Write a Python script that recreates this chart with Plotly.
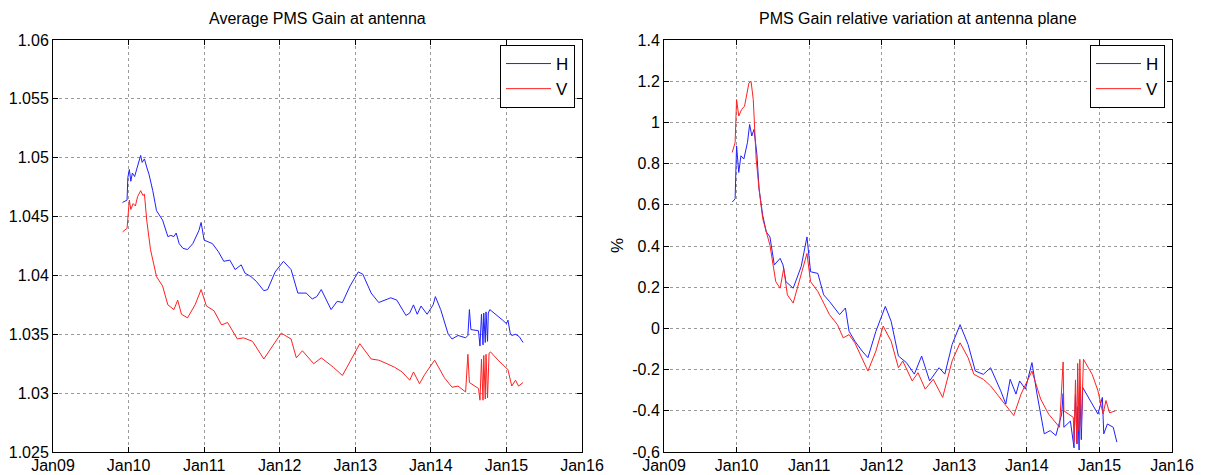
import plotly.graph_objects as go

# ---------------- data (decimal years, values) ----------------
year_ticks = [2009, 2010, 2011, 2012, 2013, 2014, 2015, 2016]
year_labels = ["Jan09", "Jan10", "Jan11", "Jan12", "Jan13", "Jan14", "Jan15", "Jan16"]

left_ytick_vals = [1.025, 1.03, 1.035, 1.04, 1.045, 1.05, 1.055, 1.06]
left_ytick_text = ["1.025", "1.03", "1.035", "1.04", "1.045", "1.05", "1.055", "1.06"]
right_ytick_vals = [-0.6, -0.4, -0.2, 0, 0.2, 0.4, 0.6, 0.8, 1.0, 1.2, 1.4]
right_ytick_text = ["-0.6", "-0.4", "-0.2", "0", "0.2", "0.4", "0.6", "0.8", "1", "1.2", "1.4"]

left_h_t = [2009.92, 2009.98, 2009.99, 2010.01, 2010.03, 2010.05, 2010.08, 2010.11, 2010.14, 2010.16,
            2010.18, 2010.21, 2010.24, 2010.27, 2010.32, 2010.37, 2010.45, 2010.52, 2010.56, 2010.6,
            2010.63, 2010.67, 2010.72, 2010.78, 2010.85, 2010.93, 2010.96, 2011.0, 2011.11, 2011.19,
            2011.26, 2011.34, 2011.41, 2011.45, 2011.49, 2011.54, 2011.62, 2011.69, 2011.79, 2011.84,
            2011.94, 2012.05, 2012.15, 2012.24, 2012.35, 2012.43, 2012.49, 2012.55, 2012.6, 2012.68,
            2012.76, 2012.83, 2012.93, 2013.04, 2013.1, 2013.21, 2013.31, 2013.4, 2013.47, 2013.55,
            2013.67, 2013.72, 2013.77, 2013.82, 2013.87, 2013.95, 2014.03, 2014.06, 2014.13, 2014.23,
            2014.28, 2014.36, 2014.46, 2014.49, 2014.51, 2014.53, 2014.63, 2014.65, 2014.67, 2014.69,
            2014.7, 2014.72, 2014.73, 2014.75, 2014.76, 2014.78, 2014.84, 2014.89, 2014.95, 2015.0,
            2015.02, 2015.05, 2015.07, 2015.12, 2015.17, 2015.22]
left_h_v = [1.0462, 1.0464, 1.0483, 1.0490, 1.0480, 1.0487, 1.0484, 1.0490, 1.0497, 1.0502,
            1.0496, 1.0499, 1.0492, 1.0486, 1.0472, 1.0455, 1.0447, 1.0433, 1.0434, 1.0433,
            1.0436, 1.0427, 1.0423, 1.0422, 1.0427, 1.0438, 1.0445, 1.0430, 1.0427, 1.0420,
            1.0412, 1.0413, 1.0405, 1.0407, 1.0409, 1.0402, 1.0399, 1.0395, 1.0387, 1.0388,
            1.0403, 1.0412, 1.0405, 1.0385, 1.0385, 1.0380, 1.0382, 1.0388, 1.0381, 1.0371,
            1.0378, 1.0377, 1.0391, 1.0403, 1.0401, 1.0385, 1.0377, 1.0379, 1.0381, 1.0379,
            1.0366, 1.0368, 1.0375, 1.0367, 1.0374, 1.0367, 1.0375, 1.0382, 1.0371, 1.0350,
            1.0346, 1.0349, 1.0347, 1.0349, 1.0371, 1.0354, 1.0353, 1.0340, 1.0367, 1.0341,
            1.0368, 1.0343, 1.0369, 1.0344, 1.0368, 1.0371, 1.0368, 1.0365, 1.0362, 1.0359,
            1.0362, 1.0351, 1.0349, 1.0350, 1.0348, 1.0343]

left_v_t = [2009.92, 2009.98, 2010.01, 2010.03, 2010.06, 2010.09, 2010.12, 2010.16, 2010.19, 2010.21,
            2010.24, 2010.29, 2010.37, 2010.45, 2010.52, 2010.6, 2010.65, 2010.7, 2010.78, 2010.88,
            2010.96, 2011.03, 2011.13, 2011.23, 2011.31, 2011.44, 2011.52, 2011.64, 2011.79, 2012.02,
            2012.15, 2012.22, 2012.3, 2012.45, 2012.55, 2012.71, 2012.83, 2013.06, 2013.21, 2013.31,
            2013.42, 2013.52, 2013.62, 2013.72, 2013.77, 2013.85, 2013.92, 2014.05, 2014.18, 2014.28,
            2014.36, 2014.46, 2014.49, 2014.5, 2014.51, 2014.63, 2014.65, 2014.67, 2014.69, 2014.7,
            2014.72, 2014.73, 2014.75, 2014.77, 2014.79, 2014.89, 2014.96, 2015.02, 2015.07, 2015.12,
            2015.16, 2015.22]
left_v_v = [1.0437, 1.0440, 1.0464, 1.0456, 1.0461, 1.0459, 1.0467, 1.0472, 1.0468, 1.0469,
            1.0447, 1.0422, 1.0399, 1.0391, 1.0375, 1.0371, 1.0379, 1.0367, 1.0364, 1.0375,
            1.0388, 1.0374, 1.0370, 1.0358, 1.0360, 1.0346, 1.0347, 1.0344, 1.0329, 1.0351,
            1.0346, 1.0330, 1.0336, 1.0325, 1.0330, 1.0322, 1.0315, 1.0342, 1.0329, 1.0328,
            1.0325, 1.0322, 1.0318, 1.0311, 1.0318, 1.0308, 1.0316, 1.0328, 1.0313, 1.0305,
            1.0306, 1.0301, 1.0333, 1.0312, 1.0309, 1.0304, 1.0294, 1.0329, 1.0294, 1.0332,
            1.0295, 1.0333, 1.0296, 1.0334, 1.0335, 1.0328, 1.0324, 1.0320, 1.0306, 1.0311,
            1.0306, 1.0309]

right_h_t = [2009.94, 2009.98, 2010.0, 2010.03, 2010.06, 2010.1, 2010.15, 2010.18, 2010.21, 2010.24,
             2010.28, 2010.31, 2010.36, 2010.41, 2010.46, 2010.52, 2010.6, 2010.64, 2010.68, 2010.78,
             2010.89, 2010.97, 2011.02, 2011.12, 2011.2, 2011.28, 2011.42, 2011.5, 2011.55, 2011.63,
             2011.73, 2011.81, 2011.92, 2012.05, 2012.13, 2012.23, 2012.34, 2012.45, 2012.55, 2012.66,
             2012.79, 2012.87, 2012.97, 2013.08, 2013.19, 2013.29, 2013.4, 2013.5, 2013.64, 2013.71,
             2013.77, 2013.85, 2013.9, 2013.98, 2014.07, 2014.14, 2014.24, 2014.32, 2014.4, 2014.48,
             2014.5, 2014.51, 2014.6, 2014.65, 2014.67, 2014.69, 2014.7, 2014.72, 2014.73, 2014.75,
             2014.77, 2014.88, 2014.98, 2015.04, 2015.06, 2015.11, 2015.19, 2015.24]
right_h_v = [0.613, 0.629, 0.886, 0.757, 0.838, 0.822, 0.902, 0.990, 0.934, 0.966,
             0.846, 0.677, 0.549, 0.468, 0.444, 0.308, 0.340, 0.308, 0.227, 0.195,
             0.300, 0.444, 0.275, 0.267, 0.163, 0.131, 0.067, 0.099, -0.014, -0.062,
             -0.110, -0.142, -0.014, 0.107, 0.034, -0.134, -0.166, -0.222, -0.134, -0.255,
             -0.191, -0.222, -0.078, 0.018, -0.078, -0.207, -0.223, -0.191, -0.303, -0.367,
             -0.247, -0.319, -0.255, -0.295, -0.166, -0.319, -0.512, -0.496, -0.520, -0.416,
             -0.316, -0.480, -0.450, -0.580, -0.320, -0.560, -0.380, -0.590, -0.300, -0.540,
             -0.287, -0.351, -0.416, -0.335, -0.512, -0.464, -0.480, -0.552]

right_v_t = [2009.94, 2009.98, 2010.0, 2010.03, 2010.07, 2010.11, 2010.17, 2010.2, 2010.23, 2010.27,
             2010.31, 2010.36, 2010.41, 2010.46, 2010.54, 2010.6, 2010.65, 2010.7, 2010.78, 2010.89,
             2010.97, 2011.02, 2011.12, 2011.2, 2011.28, 2011.39, 2011.47, 2011.55, 2011.63, 2011.81,
             2011.92, 2012.02, 2012.13, 2012.23, 2012.29, 2012.42, 2012.5, 2012.6, 2012.71, 2012.84,
             2012.97, 2013.08, 2013.19, 2013.27, 2013.4, 2013.5, 2013.71, 2013.82, 2013.92, 2014.07,
             2014.19, 2014.3, 2014.45, 2014.5, 2014.51, 2014.64, 2014.65, 2014.67, 2014.69, 2014.7,
             2014.72, 2014.73, 2014.75, 2014.78, 2014.9, 2014.98, 2015.05, 2015.09, 2015.14, 2015.22]
right_v_v = [0.854, 0.902, 1.111, 1.031, 1.063, 1.079, 1.191, 1.199, 1.111, 0.822,
             0.677, 0.533, 0.468, 0.404, 0.227, 0.195, 0.292, 0.163, 0.123, 0.259,
             0.364, 0.227, 0.179, 0.123, 0.067, 0.018, -0.046, -0.030, -0.070, -0.207,
             -0.110, 0.011, -0.062, -0.191, -0.158, -0.255, -0.215, -0.295, -0.247, -0.335,
             -0.158, -0.070, -0.142, -0.223, -0.247, -0.279, -0.375, -0.423, -0.319, -0.207,
             -0.343, -0.416, -0.480, -0.163, -0.400, -0.432, -0.550, -0.250, -0.560, -0.170,
             -0.500, -0.150, -0.480, -0.150, -0.223, -0.303, -0.416, -0.350, -0.410, -0.400]

# ---------------- figure ----------------
BLUE = "#2020ff"
RED = "#ff2020"
FONT = "Liberation Sans, Arial, sans-serif"

fig = go.Figure()
fig.add_trace(go.Scatter(x=left_h_t, y=left_h_v, mode="lines", name="H",
                         line=dict(color=BLUE, width=1), xaxis="x", yaxis="y", legend="legend"))
fig.add_trace(go.Scatter(x=left_v_t, y=left_v_v, mode="lines", name="V",
                         line=dict(color=RED, width=1), xaxis="x", yaxis="y", legend="legend"))
fig.add_trace(go.Scatter(x=right_h_t, y=right_h_v, mode="lines", name="H",
                         line=dict(color=BLUE, width=1), xaxis="x2", yaxis="y2", legend="legend2"))
fig.add_trace(go.Scatter(x=right_v_t, y=right_v_v, mode="lines", name="V",
                         line=dict(color=RED, width=1), xaxis="x2", yaxis="y2", legend="legend2"))

W, H = 1227, 475
def px_x(p):
    return p / W
def px_y(p):
    return 1 - p / H

common_x = dict(range=[2009, 2016], tickvals=year_ticks, ticktext=year_labels,
                showgrid=True, gridcolor="#9a9a9a", griddash="dot", gridwidth=1,
                showline=True, linecolor="black", linewidth=1, mirror="allticks",
                ticks="inside", ticklen=5, tickcolor="black", automargin=False,
                ticklabelstandoff=-1,
                zeroline=False, tickfont=dict(family=FONT, size=16, color="black"))
common_y = dict(showgrid=True, gridcolor="#9a9a9a", griddash="dot", gridwidth=1,
                showline=True, linecolor="black", linewidth=1, mirror="allticks",
                ticks="inside", ticklen=5, tickcolor="black", automargin=False,
                zeroline=False, tickfont=dict(family=FONT, size=16, color="black"))

legend_common = dict(bgcolor="white", bordercolor="black", borderwidth=1,
                     font=dict(family=FONT, size=17, color="black"),
                     xanchor="right", yanchor="top", traceorder="normal",
                     itemwidth=45, tracegroupgap=0)

fig.update_layout(
    width=W, height=H,
    margin=dict(l=0, r=0, t=0, b=0),
    paper_bgcolor="white", plot_bgcolor="white",
    xaxis=dict(domain=[px_x(53), px_x(582)], anchor="y", **common_x),
    yaxis=dict(domain=[px_y(452), px_y(40)], anchor="x", range=[1.025, 1.06],
               tickvals=left_ytick_vals, ticktext=left_ytick_text, **common_y),
    xaxis2=dict(domain=[px_x(664), px_x(1172)], anchor="y2", **common_x),
    yaxis2=dict(domain=[px_y(452), px_y(40)], anchor="x2", range=[-0.6, 1.4],
                tickvals=right_ytick_vals, ticktext=right_ytick_text, **common_y),
    legend=dict(x=px_x(575), y=px_y(45), **legend_common),
    legend2=dict(x=px_x(1165), y=px_y(45), **legend_common),
    showlegend=True,
    annotations=[
        dict(text="Average PMS Gain at antenna", x=px_x(317), y=px_y(18), xref="paper", yref="paper",
             showarrow=False, font=dict(family=FONT, size=16, color="black"), xanchor="center", yanchor="middle"),
        dict(text="PMS Gain relative variation at antenna plane", x=px_x(918), y=px_y(18), xref="paper",
             yref="paper", showarrow=False, font=dict(family=FONT, size=16, color="black"),
             xanchor="center", yanchor="middle"),
        dict(text="%", x=px_x(617), y=px_y(246), xref="paper", yref="paper", textangle=-90,
             showarrow=False, font=dict(family=FONT, size=17, color="black"),
             xanchor="center", yanchor="middle"),
    ],
)

fig.write_html("out.html")
